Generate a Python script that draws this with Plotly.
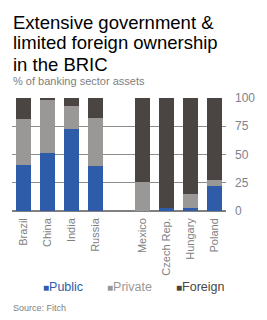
import plotly.graph_objects as go

countries = ["Brazil", "China", "India", "Russia", "", "Mexico", "Czech Rep.", "Hungary", "Poland"]
public = [41, 51, 73, 40, None, 0, 3, 3, 22]
private = [40, 47, 20, 42, None, 26, 0, 12, 5]
foreign = [19, 2, 7, 18, None, 74, 97, 85, 73]
y_ticks = [0, 25, 50, 75, 100]

C_PUB = "#2E5CA8"
C_PRI = "#9A9896"
C_FOR = "#4A4543"
FONT = "Liberation Sans, Arial, sans-serif"

xs = list(range(len(countries)))
tickvals = [i for i, c in enumerate(countries) if c]
ticktext = [c for c in countries if c]

fig = go.Figure()
for name, vals, col in [("Public", public, C_PUB), ("Private", private, C_PRI), ("Foreign", foreign, C_FOR)]:
    fig.add_trace(go.Bar(x=xs, y=vals, name=name, marker=dict(color=col, line=dict(width=0)), showlegend=False))

L, R, T, B = 11.7, 32, 98, 109
W, H = 267, 320
pw, ph = W - L - R, H - T - B

def px(x):
    return (x - L) / pw

def py(y):
    return (H - B - y) / ph

annotations = []
for txt, yc in [("Extensive government &", 22.5), ("limited foreign ownership", 43), ("in the BRIC", 64)]:
    annotations.append(dict(text=txt, x=px(10.5), y=py(yc), xref="paper", yref="paper",
                            xanchor="left", yanchor="middle", showarrow=False,
                            font=dict(family=FONT, size=18.5, color="#000000")))
annotations.append(dict(text="% of banking sector assets", x=px(11), y=py(80.5), xref="paper", yref="paper",
                        xanchor="left", yanchor="middle", showarrow=False,
                        font=dict(family=FONT, size=11, color="#808080")))
for name, col, xl in [("Public", C_PUB, 42), ("Private", C_PRI, 109), ("Foreign", C_FOR, 181)]:
    annotations.append(dict(text="<span style='font-size:10px'>■</span>" + name, x=px(xl), y=py(287), xref="paper", yref="paper",
                            xanchor="left", yanchor="middle", showarrow=False,
                            font=dict(family=FONT, size=12.5, color=col)))
annotations.append(dict(text="Source: Fitch", x=px(10.5), y=py(307.5), xref="paper", yref="paper",
                        xanchor="left", yanchor="middle", showarrow=False,
                        font=dict(family=FONT, size=9, color="#808080")))

fig.update_layout(
    width=W, height=H,
    margin=dict(l=L, r=R, t=T, b=B, pad=0),
    barmode="stack", bargap=0.375,
    plot_bgcolor="white", paper_bgcolor="white",
    annotations=annotations,
    font=dict(family=FONT),
)
fig.update_xaxes(range=[-0.5, 8.5], tickmode="array", tickvals=tickvals, ticktext=ticktext,
                 tickangle=-90, tickfont=dict(family=FONT, size=11, color="#7F7F7F"),
                 showgrid=False, zeroline=False, showline=False, ticks="", ticklabelstandoff=4)
fig.update_yaxes(range=[0, 100], side="right", tickmode="array", tickvals=y_ticks,
                 tickfont=dict(family=FONT, size=12, color="#7F7F8F"),
                 showgrid=True, gridcolor="#8C8C8C", gridwidth=1,
                 zeroline=True, zerolinecolor="#808080", zerolinewidth=2,
                 showline=False, ticks="", ticklabelstandoff=8)

fig.write_html("out.html")
